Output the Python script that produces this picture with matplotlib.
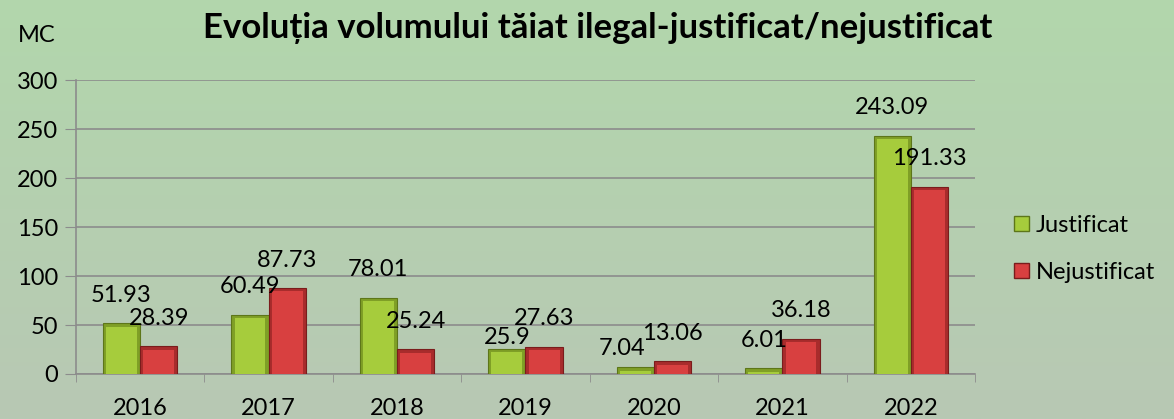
import numpy as np
import matplotlib.pyplot as plt
from matplotlib.patches import Patch

years = ['2016', '2017', '2018', '2019', '2020', '2021', '2022']
justificat = [51.93, 60.49, 78.01, 25.9, 7.04, 6.01, 243.09]
nejustificat = [28.39, 87.73, 25.24, 27.63, 13.06, 36.18, 191.33]
labels_j = ['51.93', '60.49', '78.01', '25.9', '7.04', '6.01', '243.09']
labels_n = ['28.39', '87.73', '25.24', '27.63', '13.06', '36.18', '191.33']

plt.rcParams['font.family'] = ['Lato', 'DejaVu Sans']

fig = plt.figure(figsize=(11.74, 4.19), dpi=100)

# background gradient (light green)
bg = fig.add_axes([0, 0, 1, 1], zorder=-10)
grad = np.linspace(0, 1, 256).reshape(-1, 1)
top = np.array([178, 215, 172]) / 255
bot = np.array([184, 200, 180]) / 255
img = top[None, None, :] * (1 - grad[:, :, None]) + bot[None, None, :] * grad[:, :, None]
bg.imshow(img, aspect='auto', extent=[0, 1, 0, 1])
bg.axis('off')

ax = fig.add_axes([0.0647, 0.1074, 0.7658, 0.7016])
ax.patch.set_alpha(0)

x = np.arange(len(years))
w = 0.29
green = '#a6cc3c'
green_dark = '#7f9f26'
green_edge = '#5d7619'
red = '#d84040'
red_dark = '#a82c2c'
red_edge = '#7a1c1c'

# outer (bevel) bars, then a lighter inner face for a rough 3D look
ax.bar(x - w / 2, justificat, w, color=green_dark, edgecolor=green_edge, linewidth=0.8, zorder=3)
ax.bar(x + w / 2, nejustificat, w, color=red_dark, edgecolor=red_edge, linewidth=0.8, zorder=3)
ins = 0.025
jh = np.clip(np.array(justificat) - 3.5, 0, None)
nh = np.clip(np.array(nejustificat) - 3.5, 0, None)
ax.bar(x - w / 2, jh, w - 2 * ins, color=green, linewidth=0, zorder=4)
ax.bar(x + w / 2, nh, w - 2 * ins, color=red, linewidth=0, zorder=4)

# label nudges (manually moved labels in the original)
nudge_j = {3: (0, 11), 4: (-0.1, 18.5)}
for i in range(len(years)):
    dx, dy = nudge_j.get(i, (0, 28.5))
    ax.text(x[i] - w / 2 + dx, justificat[i] + dy, labels_j[i], ha='center', va='center', fontsize=17, zorder=5)
    ax.text(x[i] + w / 2, nejustificat[i] + 28.5, labels_n[i], ha='center', va='center', fontsize=17, zorder=5)

ax.set_xlim(-0.5, len(years) - 0.5)
ax.set_ylim(0, 300)
ax.set_yticks(np.arange(0, 301, 50))
ax.tick_params(axis='y', labelsize=17, length=8, color='#8c8c8c', pad=5)
ax.set_xticks(x)
ax.set_xticklabels(years)
ax.set_xticks(np.arange(-0.5, len(years), 1), minor=True)
ax.tick_params(axis='x', which='major', length=0, labelsize=17, pad=17)
ax.tick_params(axis='x', which='minor', length=6, color='#8c8c8c')
ax.grid(axis='y', color='#8c8c8c', linewidth=1.2, zorder=0)
for s in ['top', 'right']:
    ax.spines[s].set_visible(False)
for s in ['left', 'bottom']:
    ax.spines[s].set_color('#8c8c8c')
    ax.spines[s].set_linewidth(1.2)

fig.text(0.015, 0.915, 'MC', fontsize=17, ha='left', va='center')
fig.text(0.509, 0.933, 'Evoluția volumului tăiat ilegal-justificat/nejustificat',
         fontsize=25, fontweight='bold', ha='center', va='center')

handles = [Patch(facecolor=green, edgecolor=green_edge, label='Justificat'),
           Patch(facecolor=red, edgecolor=red_edge, label='Nejustificat')]
fig.legend(handles=handles, loc='center left', bbox_to_anchor=(0.846, 0.406),
           frameon=False, fontsize=17, handlelength=0.6, handleheight=0.6,
           handletextpad=0.3, labelspacing=1.1)

fig.savefig('out.png', dpi=100)
